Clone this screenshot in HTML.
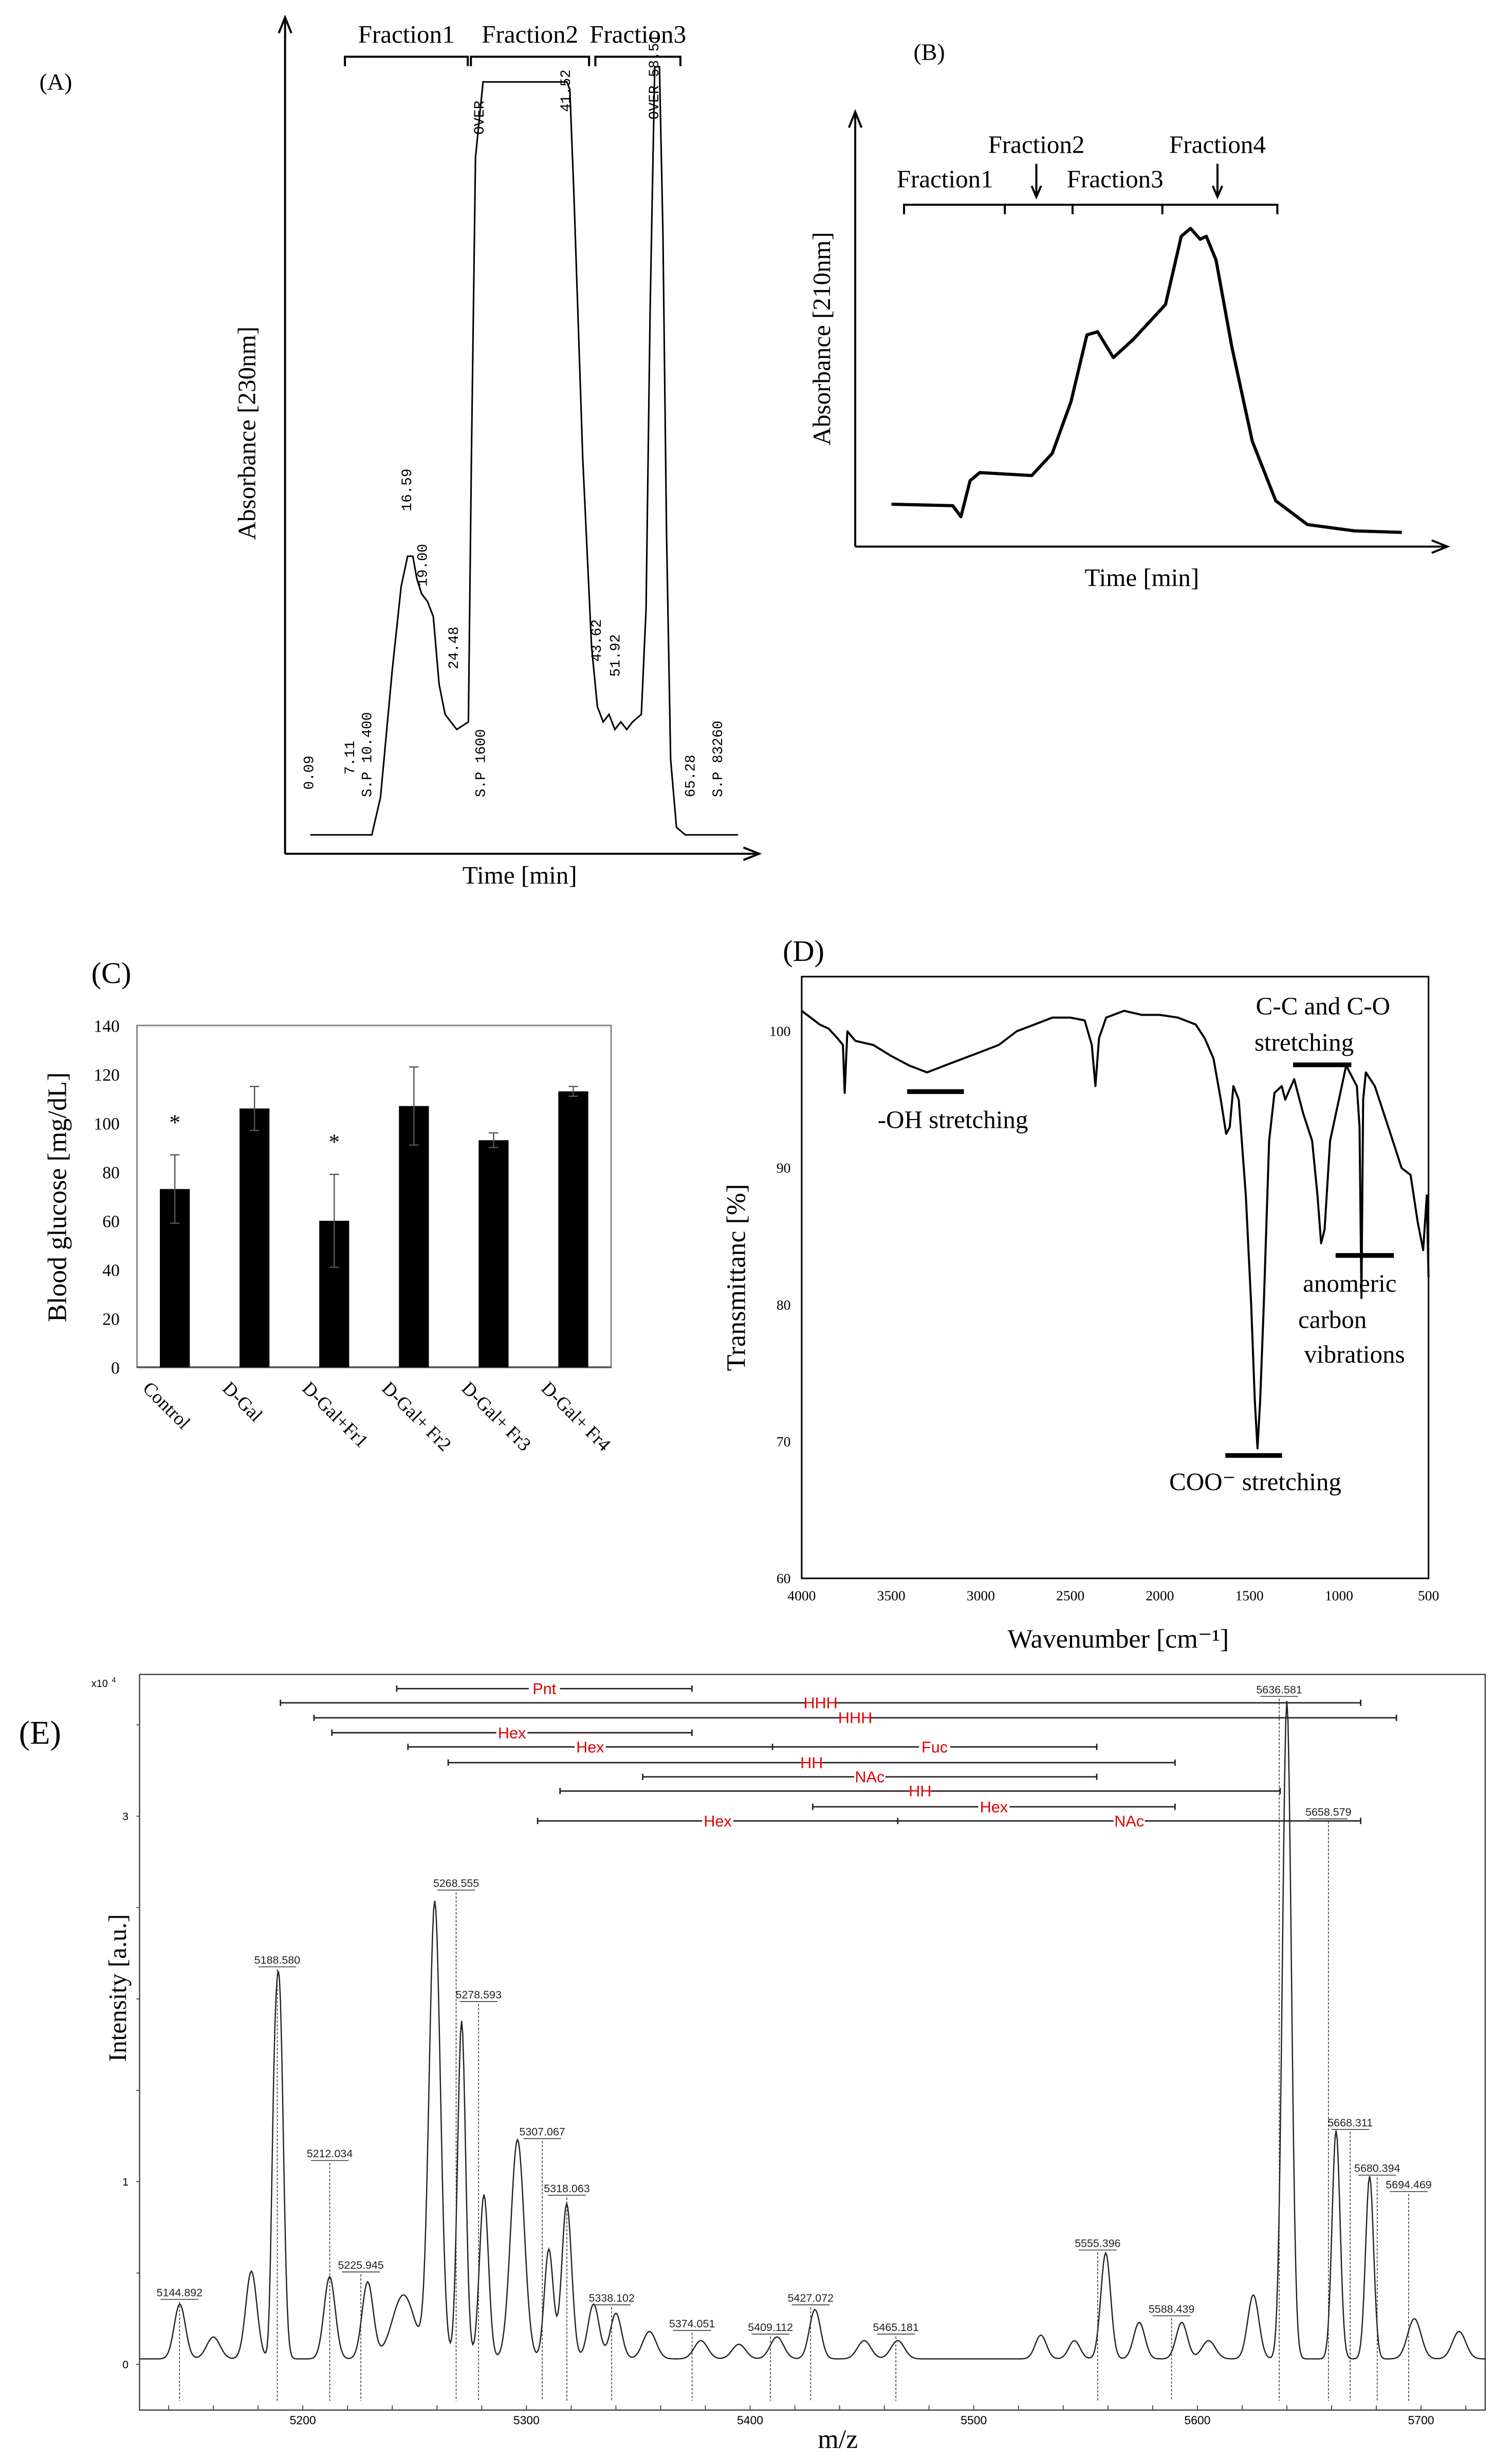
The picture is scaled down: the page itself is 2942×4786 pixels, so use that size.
<!DOCTYPE html>
<html><head><meta charset="utf-8">
<style>
html,body{margin:0;padding:0;background:#fff;}
svg{display:block;}
.serif{font-family:"Liberation Serif",serif;fill:#000;}
.mono{font-family:"Liberation Mono",monospace;fill:#000;}
.sans{font-family:"Liberation Sans",sans-serif;}
</style></head>
<body>
<svg id="fig" xmlns="http://www.w3.org/2000/svg" width="2942" height="4786" viewBox="0 0 960 1561.7">
<rect x="0" y="0" width="960" height="1561.7" fill="#fff"/>
<g id="pA"></g>
<g id="pB"></g>
<g id="pC"></g>
<g id="pD"></g>
<g id="pE"></g>
</svg>
<script>
// ---------- Panel A data ----------
const aTime=[0,10.5,12,14,15.5,16.6,17.5,18.2,19,20,21,22,23,24,25,26,27,27.5,28.2,29.5,43.8,44.3,45,46.5,48,49,50,51,52,53,54,55,56.5,57.3,58,58.8,59.6,60.2,60.8,61.5,62.5,64,73];
const aAbs=[0,0,0.05,0.22,0.33,0.37,0.37,0.34,0.32,0.31,0.29,0.2,0.16,0.15,0.14,0.145,0.15,0.5,0.9,1.0,1.0,0.99,0.85,0.5,0.25,0.17,0.15,0.16,0.14,0.15,0.14,0.15,0.16,0.3,0.7,1.02,1.02,0.8,0.4,0.1,0.01,0,0];
const aNotes=["0.09","7.11","S.P 10.400","16.59","19.00","24.48","S.P 1600","OVER","41.52","43.62","51.92","OVER 58.51","65.28","S.P 83260"];
const aNoteT=[0.5,7.5,10.4,17.2,19.9,25.2,29.8,29.6,44.3,49.6,52.8,59.4,65.6,70.3];
const aNoteA=[0.06,0.08,0.05,0.43,0.33,0.22,0.05,0.93,0.96,0.23,0.21,0.95,0.05,0.05];
// ---------- Panel B data ----------
const bTime=[0,12,13.6,15.4,17.3,27.5,31.5,35.2,38.3,40.4,43.5,47.5,53.7,56.8,58.6,60.5,61.7,63.6,66.7,70.7,75.3,81.5,90.7,100];
const bAbs=[0.093,0.088,0.052,0.17,0.197,0.187,0.26,0.43,0.65,0.66,0.575,0.637,0.75,0.974,1.0,0.964,0.974,0.896,0.611,0.3,0.104,0.026,0.005,0];
// ---------- Panel C data ----------
const cCats=["Control","D-Gal","D-Gal+Fr1","D-Gal+ Fr2","D-Gal+ Fr3","D-Gal+ Fr4"];
const cVals=[73,106,60,107,93,113];
const cErr=[14,9,19,16,3,2];
const cStar=[true,false,true,false,false,false];
const cTicks=[0,20,40,60,80,100,120,140];
// ---------- Panel D data ----------
const dWave=[4000,3950,3900,3850,3800,3770,3760,3745,3700,3600,3500,3400,3300,3200,3100,3000,2900,2800,2700,2600,2500,2420,2380,2360,2340,2300,2200,2100,2000,1900,1800,1750,1700,1660,1630,1610,1590,1560,1520,1490,1470,1455,1440,1420,1390,1360,1320,1300,1250,1200,1150,1120,1100,1080,1050,1000,960,920,900,885,875,865,850,800,750,700,650,600,560,530,510,500];
const dTrans=[101.5,101,100.5,100.2,99.5,99,95.5,100,99.3,99,98.2,97.5,97,97.5,98,98.5,99,100,100.5,101,101,100.8,99,96,99.5,101,101.5,101.2,101.2,101,100.5,99.5,98,95,92.5,93,96,95,88,80,73,69.5,73,80,92,95.5,96,95,96.5,94,92,88,84.5,85.5,92,95,97.5,96.5,96,93,80.5,95,97,96,94,92,90,89.5,86,84,88,82];
const dTicksY=[60,70,80,90,100];
const dTicksX=[4000,3500,3000,2500,2000,1500,1000,500];
// ---------- Panel E data ----------
const ePeakMz=[5145,5160,5177,5187,5189.5,5212,5229,5245,5259,5271,5281,5296,5310,5318,5330,5340,5355,5378,5395,5412,5429,5451,5466,5530,5545,5559,5574,5593,5605,5625,5640,5662,5677,5697,5717];
const ePeakH=[0.3,0.12,0.48,0.8,2.0,0.45,0.42,0.35,2.5,1.85,0.9,1.2,0.6,0.85,0.3,0.25,0.15,0.1,0.08,0.12,0.27,0.1,0.1,0.13,0.1,0.58,0.2,0.2,0.1,0.35,3.6,1.25,1.0,0.22,0.15];
const ePeakW=[2.5,3,2.5,1.2,1.8,2.5,2.5,5,2.5,1.8,2,3,2,2.2,2.5,2.5,3,3,3,3,2.5,3,3,2.5,2.5,2.2,2.5,2.5,3,2.5,2,1.8,1.8,3,3];
const eLabelMz=[5144.892,5188.580,5212.034,5225.945,5268.555,5278.593,5307.067,5318.063,5338.102,5374.051,5409.112,5427.072,5465.181,5555.396,5588.439,5636.581,5658.579,5668.311,5680.394,5694.469];
const eLabelVal=[0.36,2.18,1.12,0.51,2.6,1.99,1.24,0.93,0.33,0.19,0.17,0.33,0.17,0.63,0.27,3.66,2.99,1.29,1.04,0.95];
const eTicksX=[5200,5300,5400,5500,5600,5700];
const eTicksY=[0,1,3];
const eBarStart=[5242,5190,5205,5213,5247,5265,5352,5315,5428,5305];
const eBarEnd=[5374,5673,5689,5374,5555,5590,5555,5637,5590,5673];
const eBarMid=[null,null,null,null,5410,null,null,null,null,5466];
const eBarLabel1=["Pnt","HHH","HHH","Hex","Hex","HH","NAc","HH","Hex","Hex"];
const eBarLabel2=[null,null,null,null,"Fuc",null,null,null,null,"NAc"];

const NS="http://www.w3.org/2000/svg";
function mk(parent,tag,attrs,text){const e=document.createElementNS(NS,tag);for(const k in attrs)e.setAttribute(k,attrs[k]);if(text!==undefined)e.textContent=text;parent.appendChild(e);return e;}

// ===== Panel A =====
(function(){
const g=document.getElementById('pA');
const xA=t=>197+t*3.72, yA=a=>530-a*478;
let t=mk(g,'text',{x:25,y:57,'font-size':15,class:'serif'},'(A)');


let ax=mk(g,'path',{d:'M181,542 V13 M177,21 L181,11 L185,21 M181,542 H480 M472,538 L482,542 L472,546',stroke:'#000','stroke-width':1.3,fill:'none'});


t=mk(g,'text',{x:0,y:0,'font-size':16,class:'serif','text-anchor':'middle',transform:'translate(162,275) rotate(-90)'},'Absorbance [230nm]');


t=mk(g,'text',{x:330,y:561,'font-size':16,class:'serif','text-anchor':'middle'},'Time [min]');


const fr=[[219,297,'Fraction1'],[299,374,'Fraction2'],[378,432,'Fraction3']];
fr.forEach((f,i)=>{
 const b=mk(g,'path',{d:`M${f[0]},42 V36 H${f[1]} V42`,stroke:'#000','stroke-width':1.3,fill:'none'});
 
 
 const tt=mk(g,'text',{x:(f[0]+f[1])/2,y:27,'font-size':16,class:'serif','text-anchor':'middle'},f[2]);
 
 
});
const pts=aTime.map((v,i)=>xA(v).toFixed(1)+','+yA(aAbs[i]).toFixed(1)).join(' ');
const pl=mk(g,'polyline',{points:pts,fill:'none',stroke:'#000','stroke-width':1});


aNotes.forEach((n,i)=>{
 const x=xA(aNoteT[i]), y=yA(aNoteA[i]);
 const tt=mk(g,'text',{x:0,y:0,'font-size':9,class:'mono',transform:`translate(${x.toFixed(1)},${y.toFixed(1)}) rotate(-90)`},n);
 
 
});
})();

// ===== Panel B =====
(function(){
const g=document.getElementById('pB');
const xB=t=>566+t*3.24, yB=a=>338-a*193;
let t=mk(g,'text',{x:580,y:38,'font-size':15,class:'serif'},'(B)');


let ax=mk(g,'path',{d:'M543,347 V73 M539,81 L543,71 L547,81 M543,347 H917 M909,343 L919,347 L909,351',stroke:'#000','stroke-width':1.3,fill:'none'});


t=mk(g,'text',{x:0,y:0,'font-size':16,class:'serif','text-anchor':'middle',transform:'translate(527,215) rotate(-90)'},'Absorbance [210nm]');


t=mk(g,'text',{x:725,y:372,'font-size':16,class:'serif','text-anchor':'middle'},'Time [min]');


let br=mk(g,'path',{d:'M574,136 V130 H811 V136 M638,130 V136 M681,130 V136 M738,130 V136',stroke:'#000','stroke-width':1.3,fill:'none'});


[[600,119,'Fraction1'],[658,97,'Fraction2'],[708,119,'Fraction3'],[773,97,'Fraction4']].forEach(f=>{
 const tt=mk(g,'text',{x:f[0],y:f[1],'font-size':16,class:'serif','text-anchor':'middle'},f[2]);
 
 
});
[658,773].forEach(x=>{
 const a=mk(g,'path',{d:`M${x},104 V124 M${x-3},118 L${x},125 L${x+3},118`,stroke:'#000','stroke-width':1.3,fill:'none'});
 
 
});
const pts=bTime.map((v,i)=>xB(v).toFixed(1)+','+yB(bAbs[i]).toFixed(1)).join(' ');
const pl=mk(g,'polyline',{points:pts,fill:'none',stroke:'#000','stroke-width':2,'stroke-linejoin':'round'});


})();

// ===== Panel C =====
(function(){
const g=document.getElementById('pC');
const L=87,R=388,T=651,B=868;
const yC=v=>B-(v/140)*(B-T);
const xC=i=>111+i*50.6;
let t=mk(g,'text',{x:58,y:624,'font-size':19,class:'serif'},'(C)');


let fr=mk(g,'rect',{x:L,y:T,width:R-L,height:B-T,fill:'none',stroke:'#888','stroke-width':1});


let xa=mk(g,'line',{x1:L,y1:B,x2:R,y2:B,stroke:'#555','stroke-width':1.2});


cTicks.forEach(v=>{
 const tt=mk(g,'text',{x:76,y:yC(v)+4,'font-size':11,class:'serif','text-anchor':'end'},String(v));
 
 
});
t=mk(g,'text',{x:0,y:0,'font-size':17,class:'serif','text-anchor':'middle',transform:'translate(42,760) rotate(-90)'},'Blood glucose [mg/dL]');


cCats.forEach((c,i)=>{
 const x=xC(i);
 const r=mk(g,'rect',{x:x-9.5,y:yC(cVals[i]),width:19,height:B-yC(cVals[i]),fill:'#000'});
 
 
 const e=mk(g,'path',{d:`M${x},${yC(cVals[i]+cErr[i])} V${yC(cVals[i]-cErr[i])} M${x-3},${yC(cVals[i]+cErr[i])} H${x+3} M${x-3},${yC(cVals[i]-cErr[i])} H${x+3}`,stroke:'#555','stroke-width':0.8,fill:'none'});
 
 
 if(cStar[i]){
  const s=mk(g,'text',{x:x,y:yC(cVals[i]+cErr[i])-16,'font-size':14,class:'serif','text-anchor':'middle'},'*');
  
  
 }
 const l=mk(g,'text',{x:0,y:0,'font-size':12,class:'serif',transform:`translate(${x-21},${B+14}) rotate(45)`},c);
 
 
});
})();

// ===== Panel D =====
(function(){
const g=document.getElementById('pD');
const L=509,R=907,T=620,B=1002;
const xD=w=>L+(4000-w)/3500*(R-L);
const yD=v=>B-(v-60)/(104-60)*(B-T);
let t=mk(g,'text',{x:497,y:610,'font-size':19,class:'serif'},'(D)');


let fr=mk(g,'rect',{x:L,y:T,width:R-L,height:B-T,fill:'none',stroke:'#000','stroke-width':1});


dTicksY.forEach(v=>{
 const tt=mk(g,'text',{x:L-7,y:yD(v)+3,'font-size':9,class:'serif','text-anchor':'end'},String(v));
 
 
});
dTicksX.forEach(v=>{
 const tt=mk(g,'text',{x:xD(v),y:B+14,'font-size':9,class:'serif','text-anchor':'middle'},String(v));
 
 
});
t=mk(g,'text',{x:0,y:0,'font-size':17,class:'serif','text-anchor':'middle',transform:'translate(473,811) rotate(-90)'},'Transmittanc [%]');


t=mk(g,'text',{x:710,y:1046,'font-size':17,class:'serif','text-anchor':'middle'},'Wavenumber [cm⁻¹]');


const pts=dWave.map((w,i)=>xD(w).toFixed(1)+','+yD(dTrans[i]).toFixed(1)).join(' ');
const pl=mk(g,'polyline',{points:pts,fill:'none',stroke:'#000','stroke-width':1.3,'stroke-linejoin':'round'});


const ann=[[576,612,693,[['-OH stretching',605,716]]],[821,858,676,[['C-C and C-O',840,644],['stretching',828,667]]],[848,885,797,[['anomeric',857,820],['carbon',846,843],['vibrations',860,865]]],[778,814,924,[['COO⁻ stretching',797,946]]]];
ann.forEach(a=>{
 const ln=mk(g,'line',{x1:a[0],y1:a[2],x2:a[1],y2:a[2],stroke:'#000','stroke-width':3});
 
 
 a[3].forEach(s=>{
  const tt=mk(g,'text',{x:s[1],y:s[2],'font-size':16,class:'serif','text-anchor':'middle'},s[0]);
  
  
 });
});
})();

// ===== Panel E =====
(function(){
const g=document.getElementById('pE');
const L=88.6,R=943,T=1063,B=1530;
const xE=m=>L+(m-5127)*1.42;
const yE=v=>1501-v*116;
let t=mk(g,'text',{x:12,y:1107,'font-size':21,class:'serif'},'(E)');


let fr=mk(g,'rect',{x:L,y:T,width:R-L,height:B-T,fill:'none',stroke:'#444','stroke-width':0.8});


t=mk(g,'text',{x:58,y:1071,'font-size':6.5,class:'sans'},'x10');


mk(g,'text',{x:71,y:1068,'font-size':4.5,class:'sans'},'4');
for(let v=0;v<=3.9;v+=0.5){
 const tk=mk(g,'line',{x1:L-2,y1:yE(v),x2:L,y2:yE(v),stroke:'#444','stroke-width':0.6});
 
 
}
eTicksY.forEach(v=>{
 const tt=mk(g,'text',{x:L-7,y:yE(v)+2.5,'font-size':7,class:'sans','text-anchor':'end'},String(v));
 
 
});
for(let m=5140;m<5730;m+=20){
 const tk=mk(g,'line',{x1:xE(m),y1:B,x2:xE(m),y2:B-3,stroke:'#444','stroke-width':0.6});
 
 
}
eTicksX.forEach(v=>{
 const tt=mk(g,'text',{x:xE(v),y:B+9,'font-size':7.5,class:'sans','text-anchor':'middle'},String(v));
 
 
});
t=mk(g,'text',{x:0,y:0,'font-size':16,class:'serif','text-anchor':'middle',transform:'translate(80,1262) rotate(-90)'},'Intensity [a.u.]');


t=mk(g,'text',{x:532,y:1554,'font-size':17,class:'serif','text-anchor':'middle'},'m/z');


let pts=[];
for(let m=5127;m<=5729;m+=0.5){
 let v=0.03;
 for(let k=0;k<ePeakMz.length;k++){const d=(m-ePeakMz[k])/ePeakW[k];v+=ePeakH[k]*Math.exp(-0.5*d*d);}
 pts.push(xE(m).toFixed(2)+','+yE(v).toFixed(2));
}
const pl=mk(g,'polyline',{points:pts.join(' '),fill:'none',stroke:'#222','stroke-width':0.8});


eLabelMz.forEach((m,i)=>{
 const x=xE(m), y=yE(eLabelVal[i]);
 const dl=mk(g,'line',{x1:x,y1:y+2,x2:x,y2:yE(-0.2),stroke:'#333','stroke-width':0.5,'stroke-dasharray':'1.5,1'});
 
 
 const tt=mk(g,'text',{x:x,y:y-1.5,'font-size':7,class:'sans','text-anchor':'middle',fill:'#222'},m.toFixed(3));
 
 
 const ul=mk(g,'line',{x1:x-12,y1:y+0.5,x2:x+12,y2:y+0.5,stroke:'#333','stroke-width':0.5});
 
 
});
const barY=[1072,1081,1090.5,1100,1109,1119,1128,1137,1147,1156];
eBarStart.forEach((s,i)=>{
 const x1=xE(s),x2=xE(eBarEnd[i]),y=barY[i];
 let d=`M${x1},${y} H${x2} M${x1},${y-2} V${y+2} M${x2},${y-2} V${y+2}`;
 let mid=eBarMid[i]!==null?xE(eBarMid[i]):null;
 if(mid!==null)d+=` M${mid},${y-2} V${y+2}`;
 const ln=mk(g,'path',{d:d,stroke:'#222','stroke-width':0.9,fill:'none'});
 
 
 const lab=(a,b,txt)=>{
  const cx=(a+b)/2;
  const bg=mk(g,'rect',{x:cx-txt.length*3.3,y:y-4,width:txt.length*6.6,height:8,fill:'#fff'});
  
  
  const tt=mk(g,'text',{x:cx,y:y+3.5,'font-size':10,class:'sans','text-anchor':'middle',fill:'#e00000'},txt);
  
  
 };
 if(mid===null)lab(x1,x2,eBarLabel1[i]);else{lab(x1,mid,eBarLabel1[i]);lab(mid,x2,eBarLabel2[i]);}
});
})();
</script>
</body></html>
